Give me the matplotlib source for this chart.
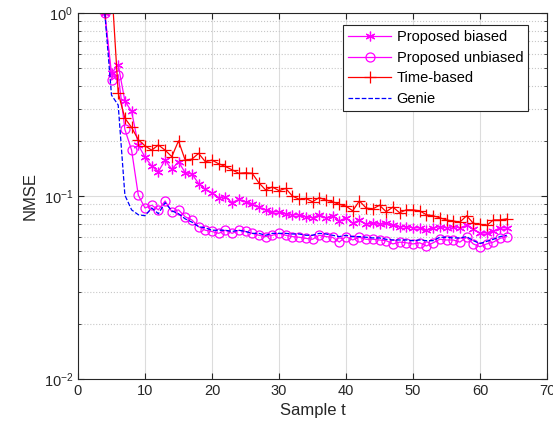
import numpy as np
import matplotlib
matplotlib.use("Agg")
import matplotlib.pyplot as plt

plt.rcParams['font.family'] = ['Liberation Sans', 'DejaVu Sans']

# sample index
t = np.arange(4, 65)

# NMSE curves (t = 4 ... 64)
biased = [1.0, 0.468, 0.52, 0.33, 0.29, 0.19, 0.163, 0.146, 0.136, 0.157,
          0.140, 0.154, 0.134, 0.132, 0.117, 0.109, 0.104, 0.098, 0.099, 0.092,
          0.096, 0.093, 0.090, 0.087, 0.084, 0.082, 0.082, 0.080, 0.079, 0.079,
          0.077, 0.076, 0.079, 0.076, 0.078, 0.073, 0.076, 0.071, 0.074, 0.070,
          0.071, 0.070, 0.071, 0.069, 0.068, 0.068, 0.067, 0.067, 0.065, 0.067,
          0.068, 0.067, 0.068, 0.067, 0.069, 0.066, 0.0625, 0.063, 0.064, 0.067,
          0.067]
unbiased = [1.0, 0.43, 0.46, 0.231, 0.178, 0.101, 0.086, 0.089, 0.084, 0.094,
            0.082, 0.084, 0.077, 0.074, 0.068, 0.065, 0.064, 0.0625, 0.065, 0.0625,
            0.065, 0.064, 0.0625, 0.061, 0.060, 0.061, 0.0625, 0.061, 0.060, 0.0595,
            0.0587, 0.058, 0.061, 0.060, 0.0595, 0.056, 0.060, 0.0575, 0.0595, 0.058,
            0.058, 0.0575, 0.057, 0.0547, 0.056, 0.0555, 0.0547, 0.0555, 0.0533, 0.0555,
            0.058, 0.0575, 0.0575, 0.056, 0.0595, 0.0547, 0.0528, 0.0547, 0.056, 0.0587,
            0.060]
time_based = [1.0, 1.45, 0.366, 0.266, 0.237, 0.203, 0.188, 0.178, 0.190, 0.178,
              0.164, 0.200, 0.157, 0.159, 0.171, 0.154, 0.157, 0.150, 0.145, 0.139,
              0.133, 0.134, 0.133, 0.118, 0.108, 0.112, 0.107, 0.110, 0.100, 0.096,
              0.097, 0.093, 0.098, 0.095, 0.093, 0.090, 0.088, 0.083, 0.094, 0.086,
              0.085, 0.089, 0.082, 0.087, 0.081, 0.084, 0.084, 0.083, 0.079, 0.078,
              0.076, 0.074, 0.073, 0.072, 0.078, 0.071, 0.070, 0.069, 0.074, 0.074,
              0.075]
genie = [1.0, 0.356, 0.314, 0.101, 0.084, 0.079, 0.078, 0.086, 0.080, 0.092,
         0.083, 0.080, 0.075, 0.072, 0.068, 0.067, 0.065, 0.065, 0.065, 0.064,
         0.065, 0.064, 0.0625, 0.0625, 0.061, 0.0625, 0.0625, 0.0625, 0.062, 0.062,
         0.061, 0.061, 0.0625, 0.062, 0.061, 0.060, 0.061, 0.060, 0.060, 0.0595,
         0.059, 0.059, 0.058, 0.0575, 0.0575, 0.0575, 0.057, 0.0575, 0.057, 0.057,
         0.0595, 0.0595, 0.059, 0.059, 0.060, 0.057, 0.055, 0.0565, 0.058, 0.060,
         0.061]

fig = plt.figure(figsize=(5.53, 4.34), dpi=100)
ax = fig.add_axes([78 / 553, 1 - 379 / 434, 469 / 553, 366 / 434])

# matlab style asterisk: six arms
asterisk = (6, 2, 0)

ax.semilogy(t, biased, '-', color='magenta', marker=asterisk, markersize=7,
            markeredgewidth=0.9, linewidth=0.9, label='Proposed biased')
ax.semilogy(t, unbiased, '-', color='magenta', marker='o', markersize=6.5,
            markerfacecolor='none', markeredgewidth=0.9, linewidth=0.9,
            label='Proposed unbiased')
ax.semilogy(t, time_based, '-', color='red', marker='+', markersize=8,
            markeredgewidth=0.9, linewidth=0.9, label='Time-based')
ax.semilogy(t, genie, '--', color='blue', linewidth=0.9, label='Genie')

ax.set_xlim(0, 70)
ax.set_ylim(1e-2, 1)
ax.set_xticks(np.arange(0, 71, 10))

ax.grid(True, which='major', color='#dcdcdc', linestyle='-', linewidth=0.8)
ax.grid(True, which='minor', axis='y', color='#c8c8c8', linestyle=':', linewidth=0.8)
ax.set_axisbelow(True)

ax.tick_params(which='both', direction='in', top=True, right=True,
               labelsize=10.5, colors='#262626')
ax.tick_params(which='major', length=4)
ax.tick_params(which='minor', length=2.5)
for s in ax.spines.values():
    s.set_color('#262626')
    s.set_linewidth(0.8)

ax.set_xlabel('Sample t', fontsize=12, color='#262626')
ax.set_ylabel('NMSE', fontsize=12, color='#262626')

leg = ax.legend(loc='upper right', bbox_to_anchor=(0.96, 0.967), fontsize=10.5,
                fancybox=False, framealpha=1, edgecolor='#262626',
                handlelength=2.9, borderpad=0.35, labelspacing=0.45,
                handletextpad=0.4, borderaxespad=0)
leg.get_frame().set_linewidth(0.8)

fig.savefig('out.png', dpi=100)
